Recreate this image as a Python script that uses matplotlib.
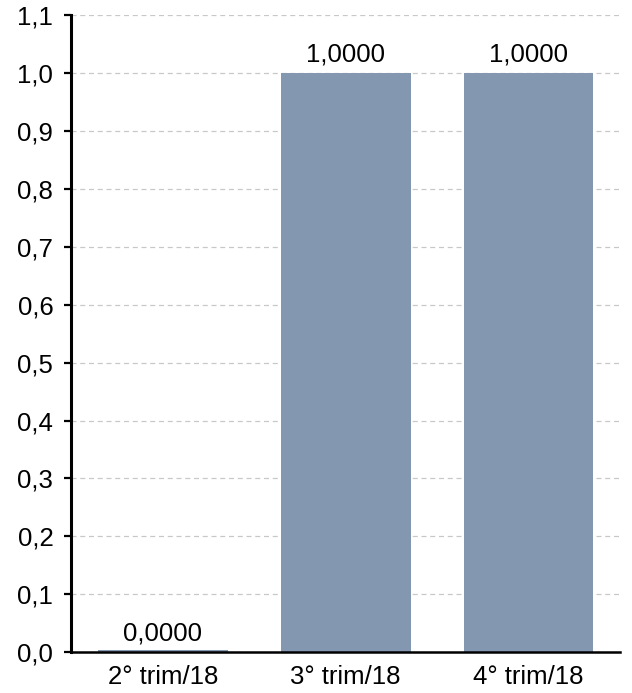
import matplotlib
matplotlib.use("Agg")
import matplotlib.pyplot as plt
from matplotlib.ticker import FuncFormatter

categories = ["2° trim/18", "3° trim/18", "4° trim/18"]
values = [0.0, 1.0, 1.0]
yticks = [0.0, 0.1, 0.2, 0.3, 0.4, 0.5, 0.6, 0.7, 0.8, 0.9, 1.0, 1.1]

plt.rcParams["font.family"] = ["Liberation Sans", "DejaVu Sans"]
FS = 18.5

fig = plt.figure(figsize=(6.32, 6.93), dpi=100)
ax = fig.add_axes([0.113, 0.059, 0.868, 0.919])

x = range(len(categories))
ax.bar(x, values, width=0.71, color="#8497b0", zorder=2)
# bar with zero height still shows as a thin line
ax.bar(x, [0.003 if v == 0 else 0 for v in values], width=0.71, color="#8497b0", zorder=2)

for xi, v in zip(x, values):
    ax.text(xi, v + 0.012, f"{v:.4f}".replace(".", ","), ha="center", va="bottom",
            fontsize=FS, color="black")

ax.set_xlim(-0.5, 2.5)
ax.set_ylim(0, 1.1)
ax.set_yticks(yticks)
ax.yaxis.set_major_formatter(FuncFormatter(lambda v, p: f"{v:.1f}".replace(".", ",")))
ax.set_xticks(list(x))
ax.set_xticklabels(categories)
ax.tick_params(axis="y", labelsize=FS, length=5, width=1.6, color="black", pad=8)
ax.tick_params(axis="x", labelsize=FS, length=0, pad=9)

ax.grid(axis="y", linestyle=(0, (4, 3)), color="#c8c8c8", linewidth=0.9, zorder=0)
ax.set_axisbelow(True)
for s in ("top", "right"):
    ax.spines[s].set_visible(False)
ax.spines["left"].set_linewidth(2.2)
ax.spines["bottom"].set_linewidth(1.8)

fig.savefig("out.png", dpi=100, facecolor="white")
